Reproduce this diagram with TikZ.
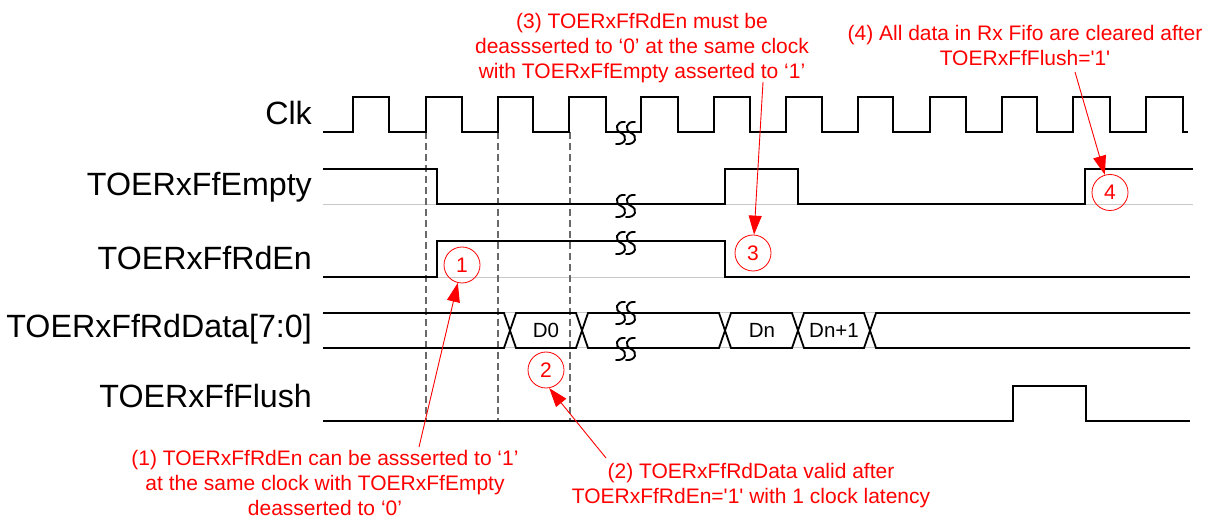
\documentclass[tikz,border=0pt]{standalone}
\usepackage{fontspec}
\setmainfont{Liberation Sans}
\usetikzlibrary{arrows.meta}
\definecolor{anno}{RGB}{255,0,0}
\definecolor{shadowgray}{RGB}{200,200,200}
\definecolor{guidegray}{RGB}{105,105,105}
\begin{document}
\begin{tikzpicture}[x=1pt,y=-1pt,
  sig/.style={line width=1.8pt, black, line join=miter},
  shadowline/.style={line width=1pt, shadowgray},
  guide/.style={line width=1.3pt, guidegray, dash pattern=on 7pt off 4pt},
  lbl/.style={anchor=base east, inner sep=0pt, font=\fontsize{32.2}{37}\selectfont},
  datalbl/.style={inner sep=0pt, font=\fontsize{20.5}{24}\selectfont},
  num/.style={circle, draw=anno, text=anno, line width=0.8pt, minimum size=36pt, inner sep=0pt, font=\fontsize{21}{25}\selectfont},
  note/.style={anchor=north, inner sep=0pt, align=center, text=anno, font=\fontsize{21}{25}\selectfont},
  arr/.style={anno, line width=0.9pt, -{Triangle[length=19pt,width=13pt]}},
  brk/.pic={
    \draw[line width=1.9pt, black, line cap=round]
      (-1,-11) .. controls (-10,-12) and (-12,-3) .. (-5,0) .. controls (2,3) and (0,12) .. (-10,11);
    \draw[line width=1.9pt, black, line cap=round]
      (9,-11) .. controls (0,-12) and (-2,-3) .. (5,0) .. controls (12,3) and (10,12) .. (0,11);
  }]
\useasboundingbox (0,0) rectangle (1218,518);

% signal names
\node[lbl] (lclk) at (312,125) {Clk};
\node[lbl] (lempty) at (312,196) {TOERxFfEmpty};
\node[lbl] (lrden) at (312,270) {TOERxFfRdEn};
\node[lbl] (ldata) at (312,338) {TOERxFfRdData[7:0]};
\node[lbl] (lflush) at (312,407) {TOERxFfFlush};

% faint baselines
\draw[shadowline] (323,205) -- (1193,205);
\draw[shadowline] (323,278) -- (1190,278);
\draw[shadowline] (323,313) -- (1190,313);
\draw[shadowline] (323,348) -- (1190,348);

% guide lines
\draw[guide] (426,132) -- (426,421);
\draw[guide] (498,132) -- (498,421);
\draw[guide] (570,132) -- (570,421);

% Clk
\draw[sig] (323,132) -- (353,132) -- (353,97) -- (389,97) -- (389,132) -- (426,132) -- (426,97) -- (462,97) -- (462,132) -- (498,132) -- (498,97) -- (533,97) -- (533,132) -- (569,132) -- (569,97) -- (606,97) -- (606,132) -- (641,132) -- (641,97) -- (678,97) -- (678,132) -- (714,132) -- (714,97) -- (750,97) -- (750,132) -- (786,132) -- (786,97) -- (822,97) -- (822,132) -- (858,132) -- (858,97) -- (893,97) -- (893,132) -- (930,132) -- (930,97) -- (966,97) -- (966,132) -- (1002,132) -- (1002,97) -- (1037,97) -- (1037,132) -- (1073,132) -- (1073,97) -- (1110,97) -- (1110,132) -- (1146,132) -- (1146,97) -- (1183,97) -- (1183,132) -- (1188,132);
\pic at (626,133) {brk};

% TOERxFfEmpty
\draw[sig] (323,169) -- (437,169) -- (437,204) -- (725,204) -- (725,169) -- (798,169) -- (798,204) -- (1085,204) -- (1085,169) -- (1193,169);
\pic at (626,206) {brk};

% TOERxFfRdEn
\draw[sig] (323,277) -- (437,277) -- (437,241) -- (725,241) -- (725,277) -- (1190,277);
\pic at (626,243) {brk};

% TOERxFfRdData
\draw[sig] (323,313) -- (504,313) -- (516,348) -- (576,348) -- (588,313) -- (719,313) -- (731,348) -- (792,348) -- (804,313) -- (864,313) -- (876,348) -- (1190,348);
\draw[sig] (323,348) -- (504,348) -- (516,313) -- (576,313) -- (588,348) -- (719,348) -- (731,313) -- (792,313) -- (804,348) -- (864,348) -- (876,313) -- (1190,313);
\pic at (626,313) {brk};
\pic at (626,349) {brk};
\node[datalbl] (d0) at (546,330.5) {D0};
\node[datalbl] (dn) at (762,330.5) {Dn};
\node[datalbl] (dn1) at (834,330.5) {Dn+1};

% TOERxFfFlush
\draw[sig] (323,421) -- (1013,421) -- (1013,386) -- (1086,386) -- (1086,421) -- (1190,421);

% markers
\node[num] (c1) at (462,265) {1};
\node[num] (c2) at (546,370) {2};
\node[num] (c3) at (753,253) {3};
\node[num] (c4) at (1110,192.5) {4};

% notes
\node[note] (n1) at (325,449.7) {(1) TOERxFfRdEn can be assserted to ‘1’\\at the same clock with TOERxFfEmpty\\deasserted to ‘0’};
\node[note] (n2) at (751,462.7) {(2) TOERxFfRdData valid after\\TOERxFfRdEn=\textquotesingle 1\textquotesingle{} with 1 clock latency};
\node[note] (n3) at (642,12.7) {(3) TOERxFfRdEn must be\\deassserted to ‘0’ at the same clock\\with TOERxFfEmpty asserted to ‘1’};
\node[note] (n4) at (1025,24.7) {(4) All data in Rx Fifo are cleared after\\TOERxFfFlush=\textquotesingle 1\textquotesingle};

% arrows
\coordinate (a1) at (419,447);
\coordinate (a2) at (606,458);
\coordinate (a3) at (763,82);
\coordinate (a4) at (1075,72);
\draw[arr] (a1) -- (c1);
\draw[arr] (a2) -- (c2.-80);
\draw[arr] (a3) -- (c3);
\draw[arr] (a4) -- (c4);
\end{tikzpicture}
\end{document}
